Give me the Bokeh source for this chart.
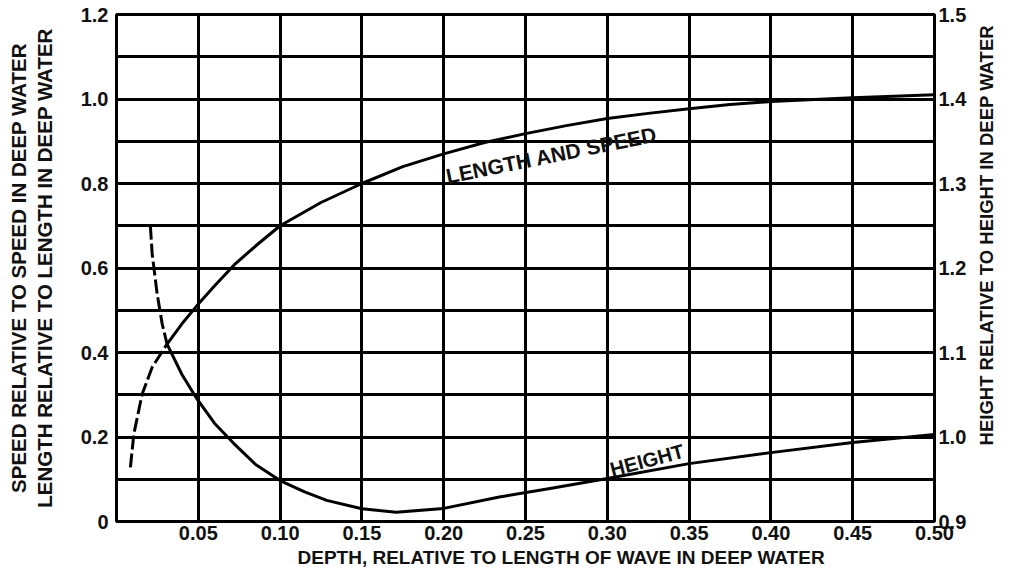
import math
from bokeh.plotting import figure
from bokeh.models import Range1d, LinearAxis, FixedTicker, NumeralTickFormatter, Label, Title
from bokeh.embed import file_html
from bokeh.resources import INLINE

# ---------------- data ----------------
x_ticks = [0.05, 0.10, 0.15, 0.20, 0.25, 0.30, 0.35, 0.40, 0.45, 0.50]
x_grid = [0.0, 0.05, 0.10, 0.15, 0.20, 0.25, 0.30, 0.35, 0.40, 0.45, 0.50]
left_ticks = [0.0, 0.2, 0.4, 0.6, 0.8, 1.0, 1.2]
left_tick_labels = ["0", "0.2", "0.4", "0.6", "0.8", "1.0", "1.2"]
y_grid = [0.0, 0.1, 0.2, 0.3, 0.4, 0.5, 0.6, 0.7, 0.8, 0.9, 1.0, 1.1, 1.2]
right_ticks = [0.9, 1.0, 1.1, 1.2, 1.3, 1.4, 1.5]

# length and speed (left axis) - dashed shallow part, then solid
len_dash_x = [0.0085, 0.0106, 0.0157, 0.0218, 0.0309]
len_dash_y = [0.128, 0.207, 0.302, 0.365, 0.420]
len_x = [0.0309, 0.040, 0.0492, 0.060, 0.0726, 0.085, 0.100, 0.125, 0.150, 0.175,
         0.200, 0.225, 0.250, 0.275, 0.300, 0.325, 0.350, 0.375, 0.400, 0.450, 0.500]
len_y = [0.420, 0.468, 0.511, 0.558, 0.610, 0.652, 0.700, 0.755, 0.800, 0.840,
         0.870, 0.897, 0.918, 0.937, 0.954, 0.966, 0.977, 0.987, 0.994, 1.003, 1.010]

# height (right axis) - dashed shallow part, then solid
h_dash_x = [0.0207, 0.0218, 0.0248, 0.0279, 0.0309]
h_dash_y = [1.250, 1.217, 1.170, 1.134, 1.110]
h_x = [0.0309, 0.040, 0.0492, 0.060, 0.0716, 0.085, 0.100, 0.115, 0.1285, 0.150,
       0.171, 0.200, 0.234, 0.265, 0.300, 0.350, 0.400, 0.450, 0.500]
h_y = [1.110, 1.074, 1.045, 1.016, 0.9925, 0.9675, 0.9485, 0.935, 0.925, 0.915,
       0.911, 0.9155, 0.929, 0.939, 0.951, 0.9685, 0.9815, 0.9935, 1.003]

FONT = "Liberation Sans"
TXT = "#111111"
RIGHT_TITLE = "HEIGHT RELATIVE TO HEIGHT IN DEEP WATER"

p = figure(width=1010, height=577, x_range=Range1d(0, 0.5), y_range=Range1d(0, 1.2),
           output_backend="svg", toolbar_location=None,
           min_border_left=116, min_border_right=74, min_border_top=14, min_border_bottom=56,
           background_fill_color="white", border_fill_color="white")
p.extra_y_ranges = {"h": Range1d(0.9, 1.5)}

# axes
xa = p.xaxis[0]
xa.ticker = FixedTicker(ticks=x_ticks)
xa.formatter = NumeralTickFormatter(format="0.00")
ya = p.yaxis[0]
ya.ticker = FixedTicker(ticks=left_ticks)
ya.major_label_overrides = dict(zip(left_ticks, left_tick_labels))
ya.axis_label = "LENGTH RELATIVE TO LENGTH IN DEEP WATER"
ya.axis_label_standoff = 22

ya2 = LinearAxis(ticker=FixedTicker(ticks=[]), axis_label="SPEED RELATIVE TO SPEED IN DEEP WATER")
ya2.axis_label_standoff = 0
ya2.major_label_standoff = 0
ya2.major_label_text_font_size = "0px"
p.add_layout(ya2, "left")

ra = LinearAxis(y_range_name="h", ticker=FixedTicker(ticks=right_ticks),
                formatter=NumeralTickFormatter(format="0.0"))
p.add_layout(ra, "right")

# right-hand title: one rotated label that starts low and reads upward
ra2 = LinearAxis(y_range_name="h", ticker=FixedTicker(ticks=[0.99]),
                 major_label_overrides={0.99: RIGHT_TITLE})
ra2.major_label_orientation = math.pi / 2
p.add_layout(ra2, "right")

for ax, standoff in ((xa, 4), (ya, 8), (ra, 4), (ya2, 0), (ra2, 17)):
    ax.axis_line_color = None
    ax.major_tick_line_color = None
    ax.minor_tick_line_color = None
    ax.major_tick_out = 0
    ax.major_tick_in = 0
    ax.major_label_standoff = standoff
    ax.major_label_text_font = FONT
    ax.major_label_text_font_style = "bold"
    ax.major_label_text_color = TXT
    ax.axis_label_text_font = FONT
    ax.axis_label_text_font_style = "bold"
    ax.axis_label_text_color = TXT
for ax in (xa, ya, ra):
    ax.major_label_text_font_size = "20px"
ra2.major_label_text_font_size = "18.5px"
ya.axis_label_text_font_size = "20.5px"
ya2.axis_label_text_font_size = "20.5px"

# x title (left-aligned with offset, as in the reference)
p.add_layout(Title(text="DEPTH, RELATIVE TO LENGTH OF WAVE IN DEEP WATER", align="left",
                   offset=181, standoff=8, vertical_align="top", text_baseline="top",
                   text_font=FONT, text_font_style="bold",
                   text_font_size="19px", text_color=TXT), "below")

# grid
p.xgrid.ticker = FixedTicker(ticks=x_grid)
p.ygrid.ticker = FixedTicker(ticks=y_grid)
for g in (p.xgrid[0], p.ygrid[0]):
    g.grid_line_color = "black"
    g.grid_line_width = 3
    g.grid_line_alpha = 1.0
p.outline_line_color = "black"
p.outline_line_width = 3
p.outline_line_alpha = 1.0

# curves
p.line(len_dash_x, len_dash_y, line_color="black", line_width=3, line_dash="14 4")
p.line(len_x, len_y, line_color="black", line_width=3, line_join="round")
p.line(h_dash_x, h_dash_y, y_range_name="h", line_color="black", line_width=3, line_dash="14 4")
p.line(h_x, h_y, y_range_name="h", line_color="black", line_width=3, line_join="round")

# curve labels
p.add_layout(Label(x=0.2016, y=0.8166, text="LENGTH AND SPEED", angle=0.20,
                   text_align="left", text_baseline="alphabetic", text_font=FONT,
                   text_font_style="bold", text_font_size="21px", text_color=TXT))
p.add_layout(Label(x=0.302, y=0.122, text="HEIGHT", angle=0.26,
                   text_align="left", text_baseline="alphabetic", text_font=FONT,
                   text_font_style="bold", text_font_size="20px", text_color=TXT))

open("out.html", "w").write(file_html(p, INLINE))
